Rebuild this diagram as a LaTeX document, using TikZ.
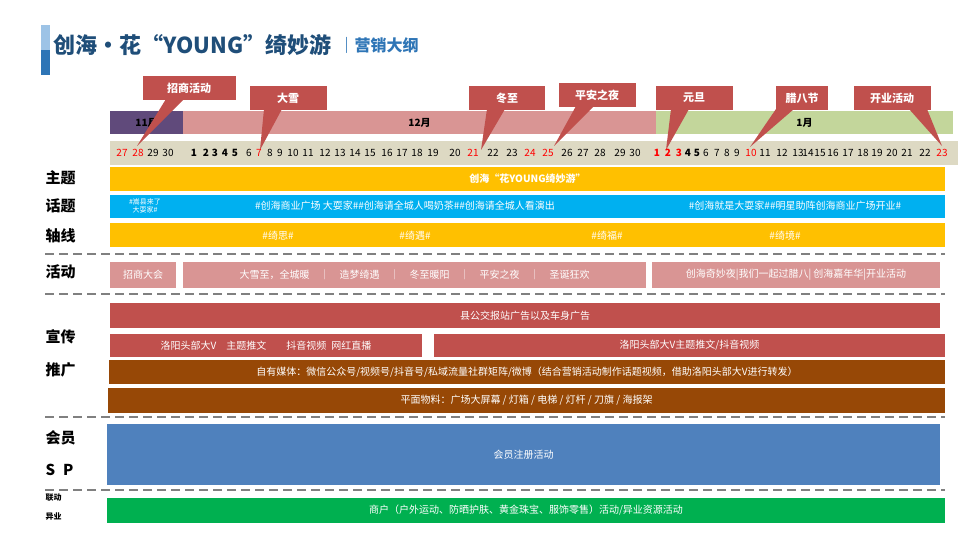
\documentclass[tikz,border=0pt]{standalone}
\usepackage{fontspec}
\setmainfont{Noto Sans CJK SC}
\usepackage{tikz}
\definecolor{titleblue}{HTML}{1F4E79}
\definecolor{subblue}{HTML}{2E75B6}
\definecolor{lightblue}{HTML}{9DC3E6}
\definecolor{callred}{HTML}{C0504D}
\definecolor{novpurple}{HTML}{604A7B}
\definecolor{decpink}{HTML}{D99594}
\definecolor{jangreen}{HTML}{C3D69B}
\definecolor{datestrip}{HTML}{DDD9C3}
\definecolor{themeyellow}{HTML}{FFC000}
\definecolor{topicblue}{HTML}{00B0F0}
\definecolor{brown}{HTML}{974806}
\definecolor{spblue}{HTML}{4F81BD}
\definecolor{linkgreen}{HTML}{00B050}
\tikzset{
  band/.style={inner sep=0,text=white,font=\fontsize{10}{12}\selectfont},
  rowlabel/.style={anchor=west,font=\fontsize{15}{17}\selectfont\bfseries},
  callbox/.style={fill=callred,text=white,minimum height=24pt,inner sep=0,font=\fontsize{11}{13}\selectfont\bfseries},
  sepline/.style={gray,dashed,dash pattern=on 9pt off 5pt,line width=1.2pt},
  date/.style={font=\fontsize{8}{9}\selectfont}
}
% band: name, x1, y1, x2, y2, colour, text
\newcommand{\band}[7]{%
  \node[band,fill=#6,minimum width={(#4-#2)*1pt},minimum height={(#5-#3)*1pt}] (#1) at ({(#2+#4)/2},{(#3+#5)/2}) {#7};}
\begin{document}
\begin{tikzpicture}[x=1pt,y=-1pt]
\useasboundingbox (0,0) rectangle (960,540);
% title
\fill[lightblue] (41,25) rectangle (50,50);
\fill[subblue] (41,50) rectangle (50,75);
\node[anchor=west,text=titleblue,font=\fontsize{22}{24}\selectfont\bfseries] (title) at (50,45) {创海·花“YOUNG”绮妙游};
\node[anchor=west,text=subblue,font=\fontsize{16}{18}\selectfont\bfseries] (subtitle) at (title.east) {｜营销大纲};
% months and dates
\band{nov}{110}{111}{183}{134}{novpurple}{\textcolor{black}{\bfseries 11月}}
\band{dec}{183}{111}{656}{134}{decpink}{\textcolor{black}{\bfseries 12月}}
\band{jan}{656}{111}{953}{134}{jangreen}{\textcolor{black}{\bfseries 1月}}
\band{strip}{110}{141}{958}{165}{datestrip}{}
% callouts
\foreach \n/\cx/\cy/\w/\bx/\tx/\ty/\txt in {
  cz/189/88/93/175/137/146/招商活动,
  dx/288/98/77/273/260/150/大雪,
  dz/507/98/76/496/481/150/冬至,
  pa/597/95/77/585/554/146/平安之夜,
  yd/694/98/77/680/666/150/元旦,
  lb/802/98/52/785/750/147/腊八节,
  ky/892/98/77/918/942/146/开业活动}{
  \node[callbox,minimum width=\w pt] (\n) at (\cx,\cy) {\txt};
  \coordinate (\n tip) at (\tx,\ty);
  \fill[callred] (\bx-9,\cy+11) -- (\bx+9,\cy+11) -- (\n tip) -- cycle;
}
\foreach \d/\x/\c/\f in {27/122/red/,28/138/red/,29/153/black/,30/168/black/,
  1/194/black/\bfseries,2/206/black/\bfseries,3/215/black/\bfseries,4/225/black/\bfseries,5/235/black/\bfseries,
  6/249/black/,7/259/red/,8/270/black/,9/280/black/,10/293/black/,11/308/black/,12/325/black/,13/340/black/,
  14/355/black/,15/370/black/,16/387/black/,17/402/black/,18/417/black/,19/433/black/,20/455/black/,
  21/473/red/,22/493/black/,23/512/black/,24/530/red/,25/548/red/,26/567/black/,27/583/black/,28/600/black/,
  29/620/black/,30/635/black/}{
  \node[date,text=\c,font=\f] at (\x,153) {\d};
}
\foreach \d/\x/\c/\f in {1/657/red/\bfseries,2/668/red/\bfseries,3/679/red/\bfseries,4/688/black/\bfseries,5/697/black/\bfseries,
  6/706/black/,7/717/black/,8/727/black/,9/737/black/,10/751/red/,11/765/black/,12/782/black/,13/798/black/,
  14/808/black/,15/820/black/,16/833/black/,17/848/black/,18/863/black/,19/877/black/,20/892/black/,
  21/907/black/,22/925/black/,23/942/red/}{
  \node[date,text=\c,font=\f] at (\x,153) {\d};
}
% row labels
\node[rowlabel] (lzt) at (42,178) {主题};
\node[rowlabel] (lht) at (42,206) {话题};
\node[rowlabel] (lzx) at (42,236) {轴线};
\node[rowlabel] (lhd) at (42,272) {活动};
\node[rowlabel] (lxc) at (42,337) {宣传};
\node[rowlabel] (ltg) at (42,370) {推广};
\node[rowlabel] (lhy) at (42,438) {会员};
\node[rowlabel] (lsp) at (42,470) {S\hspace{8pt}P};
\node[rowlabel,font=\fontsize{8}{9}\selectfont\bfseries] (lld) at (42,498) {联动};
\node[rowlabel,font=\fontsize{8}{9}\selectfont\bfseries] (lyy) at (42,517) {异业};
% theme, topic, axis
\band{theme}{110}{167}{945}{191}{themeyellow}{\bfseries 创海“花YOUNG绮妙游”}
\band{topic}{110}{195}{945}{218}{topicblue}{}
\node[text=white,align=center,font=\fontsize{7}{8}\selectfont] (t1) at (145,206) {\#嵩县来了\\大耍家\#};
\node[text=white,font=\fontsize{10}{12}\selectfont] (t2) at (405,206) {\#创海商业广场 大耍家\#\#创海请全城人喝奶茶\#\#创海请全城人看演出};
\node[text=white,font=\fontsize{10}{12}\selectfont] (t3) at (795,206) {\#创海就是大耍家\#\#明星助阵创海商业广场开业\#};
\band{axis}{110}{223}{945}{247}{themeyellow}{}
\foreach \n/\x/\txt in {a1/278/绮思,a2/415/绮遇,a3/607/绮福,a4/785/绮境}
  \node[text=white,font=\fontsize{10}{12}\selectfont] (\n) at (\x,236) {\#\txt\#};
\draw[sepline] (45,254) -- (945,254);
% activities
\band{act1}{110}{262}{176}{288}{decpink}{招商大会}
\band{act2}{183}{262}{646}{288}{decpink}{大雪至，全城暖\quad{}｜\quad{}造梦绮遇\quad{}｜\quad{}冬至暖阳\quad{}｜\quad{}平安之夜\quad{}｜\quad{}圣诞狂欢}
\band{act3}{652}{262}{940}{288}{decpink}{创海奇妙夜|我们一起过腊八| 创海嘉年华|开业活动}
\draw[sepline] (45,294) -- (945,294);
% promotion
\band{bus}{110}{303}{940}{328}{callred}{县公交报站广告以及车身广告}
\band{kol1}{110}{334}{422}{357}{callred}{洛阳头部大V\quad{}主题推文\quad\quad{}抖音视频\enspace{}网红直播}
\band{kol2}{434}{334}{945}{357}{callred}{洛阳头部大V主题推文/抖音视频}
\band{own}{109}{360}{945}{384}{brown}{自有媒体：微信公众号/视频号/抖音号/私域流量社群矩阵/微博（结合营销活动制作话题视频，借助洛阳头部大V进行转发）}
\band{print}{108}{388}{945}{413}{brown}{平面物料：广场大屏幕 / 灯箱 / 电梯 / 灯杆 / 刀旗 / 海报架}
\draw[sepline] (45,417) -- (945,417);
% members
\band{member}{107}{424}{940}{485}{spblue}{会员注册活动}
\draw[sepline] (45,490) -- (945,490);
\band{cross}{107}{498}{945}{523}{linkgreen}{商户（户外运动、防晒护肤、黄金珠宝、服饰零售）活动/异业资源活动}
\end{tikzpicture}
\end{document}
